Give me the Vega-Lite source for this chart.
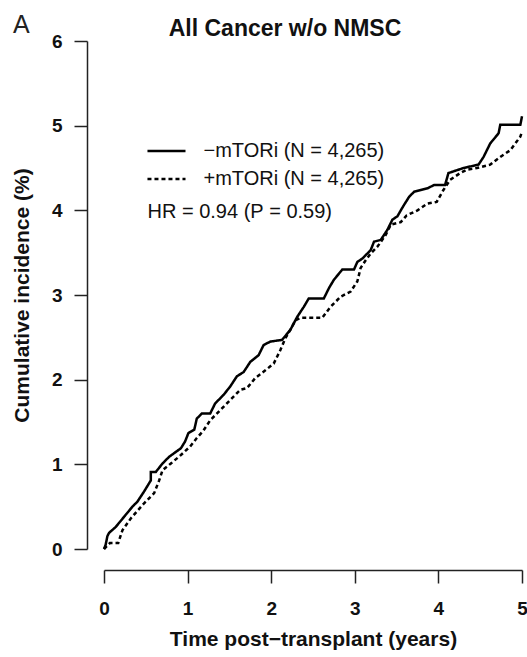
{
  "$schema": "https://vega.github.io/schema/vega-lite/v6.json",
  "autosize": {"type": "none"},
  "width": 418,
  "height": 508,
  "padding": {"left": 104, "top": 41, "right": 5, "bottom": 108},
  "background": "white",
  "config": {
    "view": {"stroke": null},
    "font": "Liberation Sans",
    "axis": {"grid": false, "domainColor": "#222", "tickColor": "#222", "domainWidth": 1.5, "tickWidth": 1.5, "labelColor": "#111", "titleColor": "#111"}
  },
  "title": {
    "text": "All Cancer w/o NMSC",
    "font": "Liberation Sans",
    "fontSize": 23,
    "fontWeight": "bold",
    "color": "#111",
    "anchor": "middle",
    "frame": "group",
    "dx": -28,
    "baseline": "alphabetic",
    "offset": -46
  },
  "datasets": {
    "curves": [
      {"t": 0, "v": 0, "g": "−mTORi"},
      {"t": 0.02, "v": 0.05, "g": "−mTORi"},
      {"t": 0.04, "v": 0.15, "g": "−mTORi"},
      {"t": 0.06, "v": 0.19, "g": "−mTORi"},
      {"t": 0.14, "v": 0.26, "g": "−mTORi"},
      {"t": 0.24, "v": 0.38, "g": "−mTORi"},
      {"t": 0.34, "v": 0.50, "g": "−mTORi"},
      {"t": 0.40, "v": 0.56, "g": "−mTORi"},
      {"t": 0.48, "v": 0.68, "g": "−mTORi"},
      {"t": 0.56, "v": 0.81, "g": "−mTORi"},
      {"t": 0.56, "v": 0.91, "g": "−mTORi"},
      {"t": 0.62, "v": 0.91, "g": "−mTORi"},
      {"t": 0.70, "v": 1.01, "g": "−mTORi"},
      {"t": 0.78, "v": 1.09, "g": "−mTORi"},
      {"t": 0.92, "v": 1.19, "g": "−mTORi"},
      {"t": 0.97, "v": 1.27, "g": "−mTORi"},
      {"t": 1.01, "v": 1.37, "g": "−mTORi"},
      {"t": 1.08, "v": 1.41, "g": "−mTORi"},
      {"t": 1.11, "v": 1.54, "g": "−mTORi"},
      {"t": 1.17, "v": 1.60, "g": "−mTORi"},
      {"t": 1.27, "v": 1.60, "g": "−mTORi"},
      {"t": 1.33, "v": 1.72, "g": "−mTORi"},
      {"t": 1.43, "v": 1.82, "g": "−mTORi"},
      {"t": 1.51, "v": 1.92, "g": "−mTORi"},
      {"t": 1.59, "v": 2.04, "g": "−mTORi"},
      {"t": 1.67, "v": 2.09, "g": "−mTORi"},
      {"t": 1.75, "v": 2.21, "g": "−mTORi"},
      {"t": 1.85, "v": 2.29, "g": "−mTORi"},
      {"t": 1.91, "v": 2.41, "g": "−mTORi"},
      {"t": 1.99, "v": 2.45, "g": "−mTORi"},
      {"t": 2.13, "v": 2.47, "g": "−mTORi"},
      {"t": 2.23, "v": 2.59, "g": "−mTORi"},
      {"t": 2.31, "v": 2.74, "g": "−mTORi"},
      {"t": 2.39, "v": 2.86, "g": "−mTORi"},
      {"t": 2.45, "v": 2.96, "g": "−mTORi"},
      {"t": 2.63, "v": 2.96, "g": "−mTORi"},
      {"t": 2.69, "v": 3.08, "g": "−mTORi"},
      {"t": 2.75, "v": 3.18, "g": "−mTORi"},
      {"t": 2.85, "v": 3.30, "g": "−mTORi"},
      {"t": 2.99, "v": 3.30, "g": "−mTORi"},
      {"t": 3.03, "v": 3.39, "g": "−mTORi"},
      {"t": 3.09, "v": 3.43, "g": "−mTORi"},
      {"t": 3.19, "v": 3.53, "g": "−mTORi"},
      {"t": 3.23, "v": 3.63, "g": "−mTORi"},
      {"t": 3.31, "v": 3.65, "g": "−mTORi"},
      {"t": 3.39, "v": 3.77, "g": "−mTORi"},
      {"t": 3.45, "v": 3.89, "g": "−mTORi"},
      {"t": 3.51, "v": 3.93, "g": "−mTORi"},
      {"t": 3.58, "v": 4.05, "g": "−mTORi"},
      {"t": 3.65, "v": 4.16, "g": "−mTORi"},
      {"t": 3.71, "v": 4.22, "g": "−mTORi"},
      {"t": 3.87, "v": 4.26, "g": "−mTORi"},
      {"t": 3.95, "v": 4.30, "g": "−mTORi"},
      {"t": 4.08, "v": 4.30, "g": "−mTORi"},
      {"t": 4.12, "v": 4.44, "g": "−mTORi"},
      {"t": 4.30, "v": 4.50, "g": "−mTORi"},
      {"t": 4.48, "v": 4.54, "g": "−mTORi"},
      {"t": 4.54, "v": 4.63, "g": "−mTORi"},
      {"t": 4.62, "v": 4.79, "g": "−mTORi"},
      {"t": 4.72, "v": 4.91, "g": "−mTORi"},
      {"t": 4.74, "v": 5.01, "g": "−mTORi"},
      {"t": 4.98, "v": 5.01, "g": "−mTORi"},
      {"t": 5.0, "v": 5.11, "g": "−mTORi"},
      {"t": 0, "v": 0, "g": "+mTORi"},
      {"t": 0.04, "v": 0.04, "g": "+mTORi"},
      {"t": 0.07, "v": 0.07, "g": "+mTORi"},
      {"t": 0.17, "v": 0.07, "g": "+mTORi"},
      {"t": 0.22, "v": 0.22, "g": "+mTORi"},
      {"t": 0.32, "v": 0.36, "g": "+mTORi"},
      {"t": 0.48, "v": 0.54, "g": "+mTORi"},
      {"t": 0.60, "v": 0.66, "g": "+mTORi"},
      {"t": 0.66, "v": 0.81, "g": "+mTORi"},
      {"t": 0.70, "v": 0.93, "g": "+mTORi"},
      {"t": 0.80, "v": 1.01, "g": "+mTORi"},
      {"t": 0.92, "v": 1.11, "g": "+mTORi"},
      {"t": 1.03, "v": 1.21, "g": "+mTORi"},
      {"t": 1.11, "v": 1.31, "g": "+mTORi"},
      {"t": 1.19, "v": 1.40, "g": "+mTORi"},
      {"t": 1.27, "v": 1.52, "g": "+mTORi"},
      {"t": 1.39, "v": 1.64, "g": "+mTORi"},
      {"t": 1.51, "v": 1.76, "g": "+mTORi"},
      {"t": 1.63, "v": 1.88, "g": "+mTORi"},
      {"t": 1.71, "v": 1.90, "g": "+mTORi"},
      {"t": 1.81, "v": 2.02, "g": "+mTORi"},
      {"t": 1.93, "v": 2.11, "g": "+mTORi"},
      {"t": 2.03, "v": 2.19, "g": "+mTORi"},
      {"t": 2.11, "v": 2.35, "g": "+mTORi"},
      {"t": 2.17, "v": 2.49, "g": "+mTORi"},
      {"t": 2.23, "v": 2.59, "g": "+mTORi"},
      {"t": 2.29, "v": 2.70, "g": "+mTORi"},
      {"t": 2.35, "v": 2.73, "g": "+mTORi"},
      {"t": 2.61, "v": 2.73, "g": "+mTORi"},
      {"t": 2.71, "v": 2.86, "g": "+mTORi"},
      {"t": 2.83, "v": 2.98, "g": "+mTORi"},
      {"t": 2.95, "v": 3.04, "g": "+mTORi"},
      {"t": 3.03, "v": 3.16, "g": "+mTORi"},
      {"t": 3.07, "v": 3.32, "g": "+mTORi"},
      {"t": 3.13, "v": 3.41, "g": "+mTORi"},
      {"t": 3.19, "v": 3.49, "g": "+mTORi"},
      {"t": 3.27, "v": 3.57, "g": "+mTORi"},
      {"t": 3.37, "v": 3.71, "g": "+mTORi"},
      {"t": 3.43, "v": 3.83, "g": "+mTORi"},
      {"t": 3.55, "v": 3.86, "g": "+mTORi"},
      {"t": 3.62, "v": 3.94, "g": "+mTORi"},
      {"t": 3.75, "v": 4.00, "g": "+mTORi"},
      {"t": 3.87, "v": 4.08, "g": "+mTORi"},
      {"t": 3.98, "v": 4.10, "g": "+mTORi"},
      {"t": 4.06, "v": 4.24, "g": "+mTORi"},
      {"t": 4.14, "v": 4.36, "g": "+mTORi"},
      {"t": 4.26, "v": 4.44, "g": "+mTORi"},
      {"t": 4.34, "v": 4.48, "g": "+mTORi"},
      {"t": 4.46, "v": 4.50, "g": "+mTORi"},
      {"t": 4.62, "v": 4.54, "g": "+mTORi"},
      {"t": 4.74, "v": 4.63, "g": "+mTORi"},
      {"t": 4.86, "v": 4.71, "g": "+mTORi"},
      {"t": 4.98, "v": 4.87, "g": "+mTORi"},
      {"t": 5.0, "v": 4.93, "g": "+mTORi"}
    ],
    "keys": [
      {"t": 0.52, "t2": 0.975, "v": 4.70, "g": "−mTORi", "label": "−mTORi (N = 4,265)"},
      {"t": 0.52, "t2": 0.975, "v": 4.37, "g": "+mTORi", "label": "+mTORi (N = 4,265)"}
    ],
    "notes": [
      {"t": 0.52, "v": 3.98, "label": "HR = 0.94 (", "style": "normal"},
      {"t": 1.75, "v": 3.98, "label": "P", "style": "italic"},
      {"t": 1.976, "v": 3.98, "label": "= 0.59)", "style": "normal"}
    ],
    "panel": [
      {"t": -1.09, "v": 6.09, "label": "A"}
    ]
  },
  "layer": [
    {
      "data": {"name": "curves"},
      "mark": {"type": "line", "color": "#000", "strokeWidth": 2.5, "interpolate": "linear"},
      "encoding": {
        "x": {
          "field": "t", "type": "quantitative",
          "scale": {"domain": [0, 5], "nice": false},
          "axis": {
            "title": "Time post−transplant (years)", "values": [0, 1, 2, 3, 4, 5], "format": "d",
            "offset": 21, "tickSize": 13, "labelPadding": 16, "labelFontSize": 19, "labelFontWeight": "bold",
            "titleFontSize": 21, "titleFontWeight": "bold", "titlePadding": 10, "labelFlush": false
          }
        },
        "y": {
          "field": "v", "type": "quantitative",
          "scale": {"domain": [0, 6], "nice": false},
          "axis": {
            "title": "Cumulative incidence (%)", "values": [0, 1, 2, 3, 4, 5, 6], "format": "d",
            "offset": 17, "tickSize": 13, "labelPadding": 12, "labelFontSize": 19, "labelFontWeight": "bold",
            "titleFontSize": 21, "titleFontWeight": "bold", "titlePadding": 19, "labelFlush": false
          }
        },
        "detail": {"field": "g"},
        "strokeDash": {
          "field": "g", "type": "nominal",
          "scale": {"domain": ["−mTORi", "+mTORi"], "range": [[1, 0], [4, 3]]},
          "legend": null
        }
      }
    },
    {
      "data": {"name": "keys"},
      "mark": {"type": "rule", "color": "#000", "strokeWidth": 2.4},
      "encoding": {
        "x": {"field": "t", "type": "quantitative"},
        "x2": {"field": "t2"},
        "y": {"field": "v", "type": "quantitative"},
        "strokeDash": {"field": "g", "type": "nominal", "legend": null}
      }
    },
    {
      "data": {"name": "keys"},
      "mark": {"type": "text", "align": "left", "baseline": "middle", "fontSize": 20, "color": "#111", "dx": 56},
      "encoding": {
        "x": {"field": "t", "type": "quantitative"},
        "y": {"field": "v", "type": "quantitative"},
        "text": {"field": "label"}
      }
    },
    {
      "data": {"name": "notes"},
      "mark": {"type": "text", "align": "left", "baseline": "middle", "fontSize": 20, "color": "#111"},
      "encoding": {
        "x": {"field": "t", "type": "quantitative"},
        "y": {"field": "v", "type": "quantitative"},
        "text": {"field": "label"},
        "fontStyle": {"field": "style", "type": "nominal", "scale": null}
      }
    },
    {
      "data": {"name": "panel"},
      "mark": {"type": "text", "align": "left", "baseline": "alphabetic", "fontSize": 25, "color": "#222"},
      "encoding": {
        "x": {"field": "t", "type": "quantitative"},
        "y": {"field": "v", "type": "quantitative"},
        "text": {"field": "label"}
      }
    }
  ]
}
